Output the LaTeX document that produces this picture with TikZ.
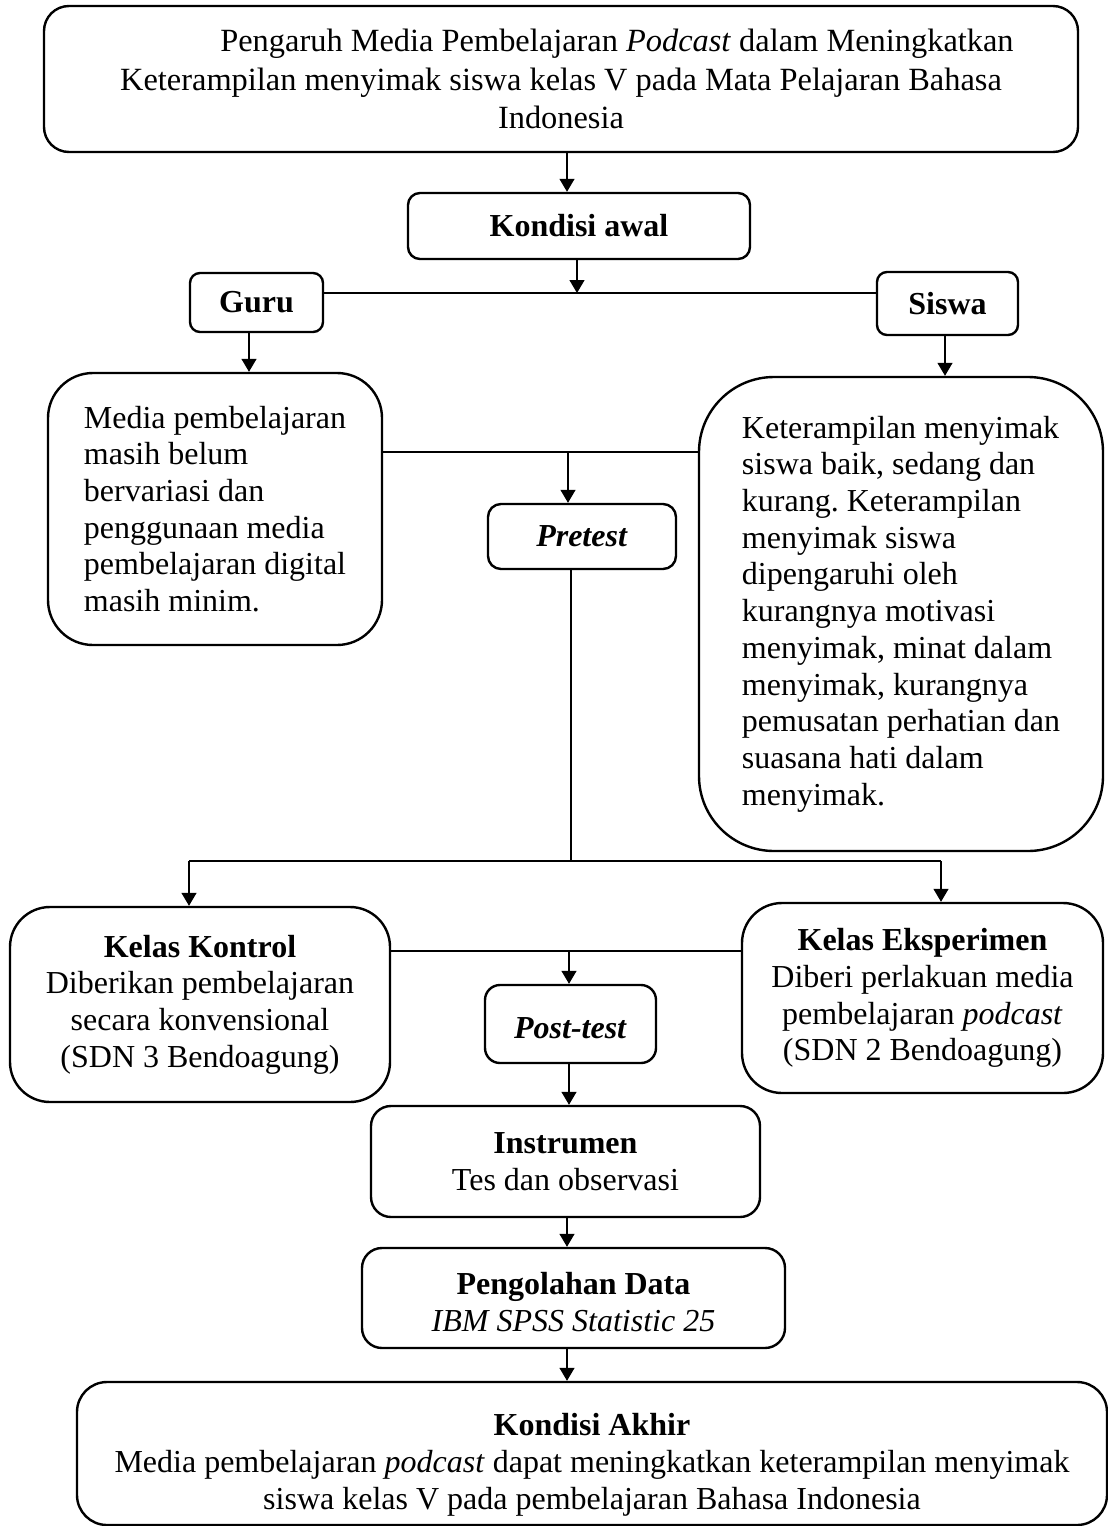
\documentclass[tikz,border=0pt]{standalone}
\usepackage{fontspec}
\setmainfont{Liberation Serif}
\usetikzlibrary{arrows.meta,calc}
\frenchspacing
\begin{document}
\begin{tikzpicture}[x=1pt,y=-1pt,
  box/.style={draw, line width=2.4pt, rounded corners=#1, inner sep=0pt, align=center,
     font=\fontsize{32pt}{36.7pt}\selectfont},
  box/.default=12pt,
  conn/.style={line width=1.3pt},
  arr/.style={line width=1.3pt, -{Triangle[width=15pt,length=13pt]}}]
\useasboundingbox (0,0) rectangle (1108,1526);

% boxes
\node[box=25pt, minimum width=1034pt, minimum height=146pt,
      font=\fontsize{32.4pt}{38.5pt}\selectfont] (title) at (561,79)
  {\hspace*{112pt}Pengaruh Media Pembelajaran \textit{Podcast} dalam Meningkatkan\\
   Keterampilan menyimak siswa kelas V pada Mata Pelajaran Bahasa\\
   Indonesia};
\node[box=12pt, minimum width=342pt, minimum height=66pt] (awal) at (579,226) {\textbf{Kondisi awal}};
\node[box=10pt, minimum width=133pt, minimum height=59pt] (guru) at (256.5,302.5) {\textbf{Guru}};
\node[box=10pt, minimum width=141pt, minimum height=63pt] (siswa) at (947.5,303.5) {\textbf{Siswa}};
\node[box=45pt, minimum width=334pt, minimum height=272pt, align=left] (media) at (215,509)
  {Media pembelajaran\\ masih belum\\ bervariasi dan\\ penggunaan media\\ pembelajaran digital\\ masih minim.};
\node[box=75pt, minimum width=404pt, minimum height=474pt, align=left] (ket) at (901,614)
  {Keterampilan menyimak\\ siswa baik, sedang dan\\ kurang. Keterampilan\\ menyimak siswa\\ dipengaruhi oleh\\
   kurangnya motivasi\\ menyimak, minat dalam\\ menyimak, kurangnya\\ pemusatan perhatian dan\\ suasana hati dalam\\ menyimak.};
\node[box=13pt, minimum width=188pt, minimum height=65pt] (pre) at (582,536.5) {\textbf{\textit{Pretest}}};
\node[box=40pt, minimum width=380pt, minimum height=195pt] (kontrol) at (200,1004.5)
  {\textbf{Kelas Kontrol}\\ Diberikan pembelajaran\\ secara konvensional\\ (SDN 3 Bendoagung)};
\node[box=40pt, minimum width=361pt, minimum height=190pt] (eksp) at (922.5,998)
  {\textbf{Kelas Eksperimen}\\ Diberi perlakuan media\\ pembelajaran \textit{podcast}\\ (SDN 2 Bendoagung)};
\node[box=15pt, minimum width=171pt, minimum height=78pt] (post) at (570.5,1024) {\rule{0pt}{30pt}\textbf{\textit{Post-test}}};
\node[box=20pt, minimum width=389pt, minimum height=111pt] (instr) at (565.5,1161.5)
  {\textbf{Instrumen}\\ Tes dan observasi};
\node[box=20pt, minimum width=423pt, minimum height=100pt] (olah) at (573.5,1298)
  {\rule{0pt}{30pt}\textbf{Pengolahan Data}\\ \textit{IBM SPSS Statistic 25}};
\node[box=30pt, minimum width=1030pt, minimum height=143pt] (akhir) at (592,1453.5)
  {\rule{0pt}{45pt}\textbf{Kondisi Akhir}\\ Media pembelajaran \textit{podcast} dapat meningkatkan keterampilan menyimak\\
   siswa kelas V pada pembelajaran Bahasa Indonesia};

% junction coordinates
\coordinate (a1) at (567,0);
\coordinate (j1) at (577,293);
\coordinate (g1) at (249,0);
\coordinate (s1) at (945,0);
\coordinate (j2) at (568,452);
\coordinate (p1) at (571,0);
\coordinate (j3) at (571,861);
\coordinate (k1) at (189,861);
\coordinate (e1) at (941,861);
\coordinate (j4) at (569,951);
\coordinate (i1) at (569,0);
\coordinate (o1) at (567,0);

% connectors
\draw[arr] (title.south -| a1) -- (awal.north -| a1);
\draw[arr] (awal.south -| j1) -- (j1);
\draw[conn] (guru.east |- j1) -- (siswa.west |- j1);
\draw[arr] (guru.south -| g1) -- (media.north -| g1);
\draw[arr] (siswa.south -| s1) -- (ket.north -| s1);
\draw[conn] (media.east |- j2) -- (ket.west |- j2);
\draw[arr] (j2) -- (pre.north -| j2);
\draw[conn] (pre.south -| p1) -- (j3);
\draw[conn] (k1) -- (e1);
\draw[arr] (k1) -- (kontrol.north -| k1);
\draw[arr] (e1) -- (eksp.north -| e1);
\draw[conn] (kontrol.east |- j4) -- (eksp.west |- j4);
\draw[arr] (j4) -- (post.north -| j4);
\draw[arr] (post.south -| i1) -- (instr.north -| i1);
\draw[arr] (instr.south -| o1) -- (olah.north -| o1);
\draw[arr] (olah.south -| o1) -- (akhir.north -| o1);
\end{tikzpicture}
\end{document}
